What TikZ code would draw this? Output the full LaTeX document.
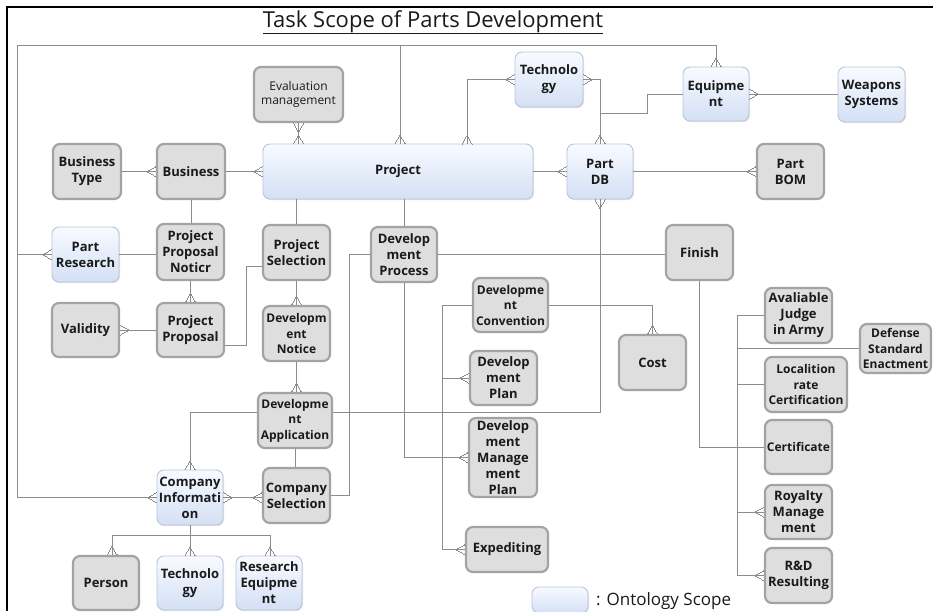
\documentclass[tikz,border=0pt]{standalone}
\usepackage{fontspec}
\setmainfont{Open Sans}
\usetikzlibrary{calc,shadows,arrows.meta}

% crow's foot ("many") end of an ER relationship line
\pgfdeclarearrow{
  name = Crow,
  parameters = {\the\pgfarrowlinewidth},
  setup code = {
    \pgfarrowssettipend{0pt}
    \pgfarrowssetlineend{0pt}
    \pgfarrowssetbackend{-9pt}
    \pgfarrowssetvisualbackend{-9pt}
    \pgfarrowsupperhullpoint{0pt}{5pt}
    \pgfarrowsupperhullpoint{-9pt}{0pt}
  },
  drawing code = {
    \pgfsetlinewidth{\pgfarrowlinewidth}
    \pgfpathmoveto{\pgfqpoint{0pt}{5pt}}
    \pgfpathlineto{\pgfqpoint{-9pt}{0pt}}
    \pgfpathlineto{\pgfqpoint{0pt}{-5pt}}
    \pgfusepathqstroke
  },
}

\definecolor{fillgray}{HTML}{DEDEDE}
\definecolor{boxgray}{HTML}{A3A3A3}
\definecolor{blueTop}{HTML}{F8FAFF}
\definecolor{blueBot}{HTML}{D4E0F5}
\definecolor{blueEdge}{HTML}{BAC5D9}
\definecolor{linegray}{HTML}{8C8C8C}
\definecolor{inkc}{HTML}{1A1A1A}

\newcommand\boxfont{\fontsize{13}{16}\selectfont\bfseries}
\newcommand\boxfontsm{\fontsize{12}{15.5}\selectfont\bfseries}

\tikzset{
  wh/.style 2 args={minimum width=#1pt, minimum height=#2pt},
  basebox/.style={rounded corners=7pt, align=center, inner sep=0pt,
    text=inkc, font=\boxfont},
  gbox/.style={basebox, draw=boxgray, line width=2.2pt, fill=fillgray},
  bbox/.style={basebox, draw=blueEdge, line width=0.9pt,
    top color=blueTop, bottom color=blueBot,
    drop shadow={shadow xshift=1pt, shadow yshift=-1.2pt, opacity=0.22}},
  smalltext/.style={font=\boxfontsm},
  conn/.style={draw=linegray, line width=0.8pt},
  frameline/.style={draw=black, line width=2pt},
}

\begin{document}
\begin{tikzpicture}[x=1pt, y=-1pt]
\useasboundingbox (0,0) rectangle (933,611);
\clip (0,0) rectangle (933,611);
\fill[white] (0,0) rectangle (933,611);

% outer frame
\draw[frameline] (7,611) -- (7,7) -- (933,7);

% title
\node[anchor=base, inner sep=0pt, text=inkc] (title) at (433,27) {\fontsize{22}{24}\selectfont\underline{Task Scope of Parts Development}};

% ---- entities ----
\node[gbox, wh={89}{55}, font=\fontsize{12}{14.5}\selectfont] (evalm) at (298.5,94.5) {Evaluation\\management};
\node[bbox, wh={270}{55}] (project) at (398,171.5) {Project};
\node[gbox, wh={68}{55}] (btype) at (87,171.5) {Business\\Type};
\node[gbox, wh={68}{55}] (business) at (191,171.5) {Business};
\node[bbox, wh={68}{55}] (tech1) at (549,79.5) {Technolo\\gy};
\node[bbox, wh={66}{54}] (equip) at (716,94) {Equipme\\nt};
\node[bbox, wh={67}{55}] (weapons) at (871.5,94.5) {Weapons\\Systems};
\node[bbox, wh={66}{55}] (partdb) at (600,171.5) {Part\\DB};
\node[gbox, wh={67}{55}] (partbom) at (790.5,171.5) {Part\\BOM};

\node[bbox, wh={67}{55}] (partres) at (85.5,254.5) {Part\\Research};
\node[gbox, wh={67}{56}] (ppn) at (190.5,252) {Project\\Proposal\\Noticr};
\node[gbox, wh={67}{54}] (pp) at (190.5,330) {Project\\Proposal};
\node[gbox, wh={67}{54}] (validity) at (85.5,330) {Validity};
\node[gbox, wh={67}{55}] (psel) at (296.5,252.5) {Project\\Selection};
\node[gbox, wh={67}{55}, smalltext] (dnot) at (296.5,333.5) {Developm\\ent\\Notice};
\node[gbox, wh={66}{55}] (dproc) at (404,254.5) {Develop\\ment\\Process};
\node[gbox, wh={74}{55}, smalltext] (dapp) at (295,420.5) {Developme\\nt\\Application};
\node[bbox, wh={66}{55}] (cinfo) at (190,497.5) {Company\\Informati\\on};
\node[gbox, wh={67}{55}] (csel) at (296.5,495.5) {Company\\Selection};
\node[gbox, wh={66}{54}] (person) at (106,583) {Person};
\node[bbox, wh={66}{54}] (tech2) at (190,583) {Technolo\\gy};
\node[bbox, wh={66}{54}] (resequip) at (269,583) {Research\\Equipme\\nt};

\node[gbox, wh={75}{54}, smalltext] (dconv) at (510.5,305) {Developme\\nt\\Convention};
\node[gbox, wh={67}{54}] (dplan) at (503.5,378) {Develop\\ment\\Plan};
\node[gbox, wh={68}{79}] (dmplan) at (503,457.5) {Develop\\ment\\Manage\\ment\\Plan};
\node[gbox, wh={82}{45}] (exped) at (507,549.5) {Expediting};
\node[gbox, wh={67}{55}] (cost) at (652.5,362.5) {Cost};
\node[gbox, wh={67}{55}] (finish) at (699.5,252.5) {Finish};

\node[gbox, wh={67}{55}] (avail) at (798.5,315.5) {Avaliable\\Judge\\in Army};
\node[gbox, wh={71}{49}, smalltext] (defense) at (895.5,348.5) {Defense\\Standard\\Enactment};
\node[gbox, wh={82}{55}, smalltext] (local) at (806,384.5) {Localition\\rate\\Certification};
\node[gbox, wh={67}{54}, smalltext] (cert) at (798.5,447) {Certificate};
\node[gbox, wh={67}{54}] (royalty) at (798.5,512) {Royalty\\Manage\\ment};
\node[gbox, wh={67}{55}] (rnd) at (798.5,575.5) {R\&D\\Resulting};

% legend
\node[bbox, wh={56}{26}] (legbox) at (560,600) {};
\node[anchor=west, inner sep=0pt, text=inkc, font=\fontsize{17}{19}\selectfont] (legtext) at (596,601) {: Ontology Scope};

% ---- relationship lines ----
\coordinate (loopL) at (17,45);
\coordinate (loopP) at (400,45);
\coordinate (tp) at (467,144);
\coordinate (eqbend) at (647,113);
\coordinate (dpc) at (349,495.5);
\coordinate (dct) at (442,305);
\coordinate (trunk) at (737,575.5);
\coordinate (cibL) at (112,535);
\coordinate (cibR) at (270,535);

% long loop round the top left
\draw[conn, Crow-Crow] (cinfo.west) -| (loopL) -| (equip.north);
\draw[conn, -Crow] (loopP) -- (loopP |- project.north);
\draw[conn, -Crow] (loopL |- partres.west) -- (partres.west);

\draw[conn, -Crow] (btype) -- (business);
\draw[conn, -Crow] (business) -- (project);
\draw[conn, Crow-Crow] (evalm.south) -- (evalm.south |- project.north);
\draw[conn, Crow-Crow] (tech1.west) -| (tp);
\draw[conn, Crow-Crow] (tech1.east) -| (partdb.north);
\draw[conn] (equip.west) -| (eqbend) -| (partdb.north);
\draw[conn, Crow-] (equip.east) -- (weapons.west |- equip.east);
\draw[conn, -Crow] (project.east) -- (partdb.west);
\draw[conn, -Crow] (partdb.east) -- (partbom.west);

\draw[conn] (business.south) -- (business.south |- ppn.north);
\draw[conn] (partres.east) -- (partres.east -| ppn.west);
\draw[conn, -Crow] (ppn.south) -- (pp.north);
\draw[conn, Crow-] (validity.east) -- (pp.west);
\draw[conn] ($(pp.east)+(0,15)$) -| ($(psel.west)+(-16,13.5)$) -- ($(psel.west)+(0,13.5)$);
\draw[conn] (psel.north |- project.south) -- (psel.north);
\draw[conn, -Crow] (psel.south) -- (dnot.north);
\draw[conn, -Crow] (dnot.south) -- (dnot.south |- dapp.north);
\draw[conn, -Crow] ($(dapp.west)+(0,-8.5)$) -| (cinfo.north);
\draw[conn, -Crow] ($(dapp.east)+(0,-8.5)$) -| (partdb.south);
\draw[conn] (dapp.south) -- (dapp.south |- csel.north);
\draw[conn, Crow-Crow] (cinfo.east) -- (cinfo.east -| csel.west);
\draw[conn] (dproc.west) -| (dpc) -- (csel.east);
\draw[conn] (dproc.north |- project.south) -- (dproc.north);
\draw[conn] (dproc.east) -- (dproc.east -| finish.west);
\draw[conn, -Crow] (dproc.south) |- (dmplan.west);

% company information children
\draw[conn, -Crow] (cinfo.south) -- (tech2.north);
\draw[conn] (cibL) -- (cibR);
\draw[conn, -Crow] (cibL) -- (cibL |- person.north);
\draw[conn, -Crow] (cibR) -- (cibR |- resequip.north);

% development convention tree
\draw[conn, -Crow] (dconv.west) -- (dct) |- (exped.west);
\draw[conn, -Crow] (dct |- dplan.west) -- (dplan.west);
\draw[conn, -Crow] (dconv.east) -| (cost.north);

% finish and defense standard tree
\draw[conn] (finish.south) |- (cert.west);
\draw[conn, -Crow] (avail.west) -| (trunk) -- (rnd.west);
\draw[conn] (defense.west) -- (defense.west -| trunk);
\draw[conn] (trunk |- local.west) -- (local.west);
\draw[conn, -Crow] (trunk |- royalty.west) -- (royalty.west);
\end{tikzpicture}
\end{document}
